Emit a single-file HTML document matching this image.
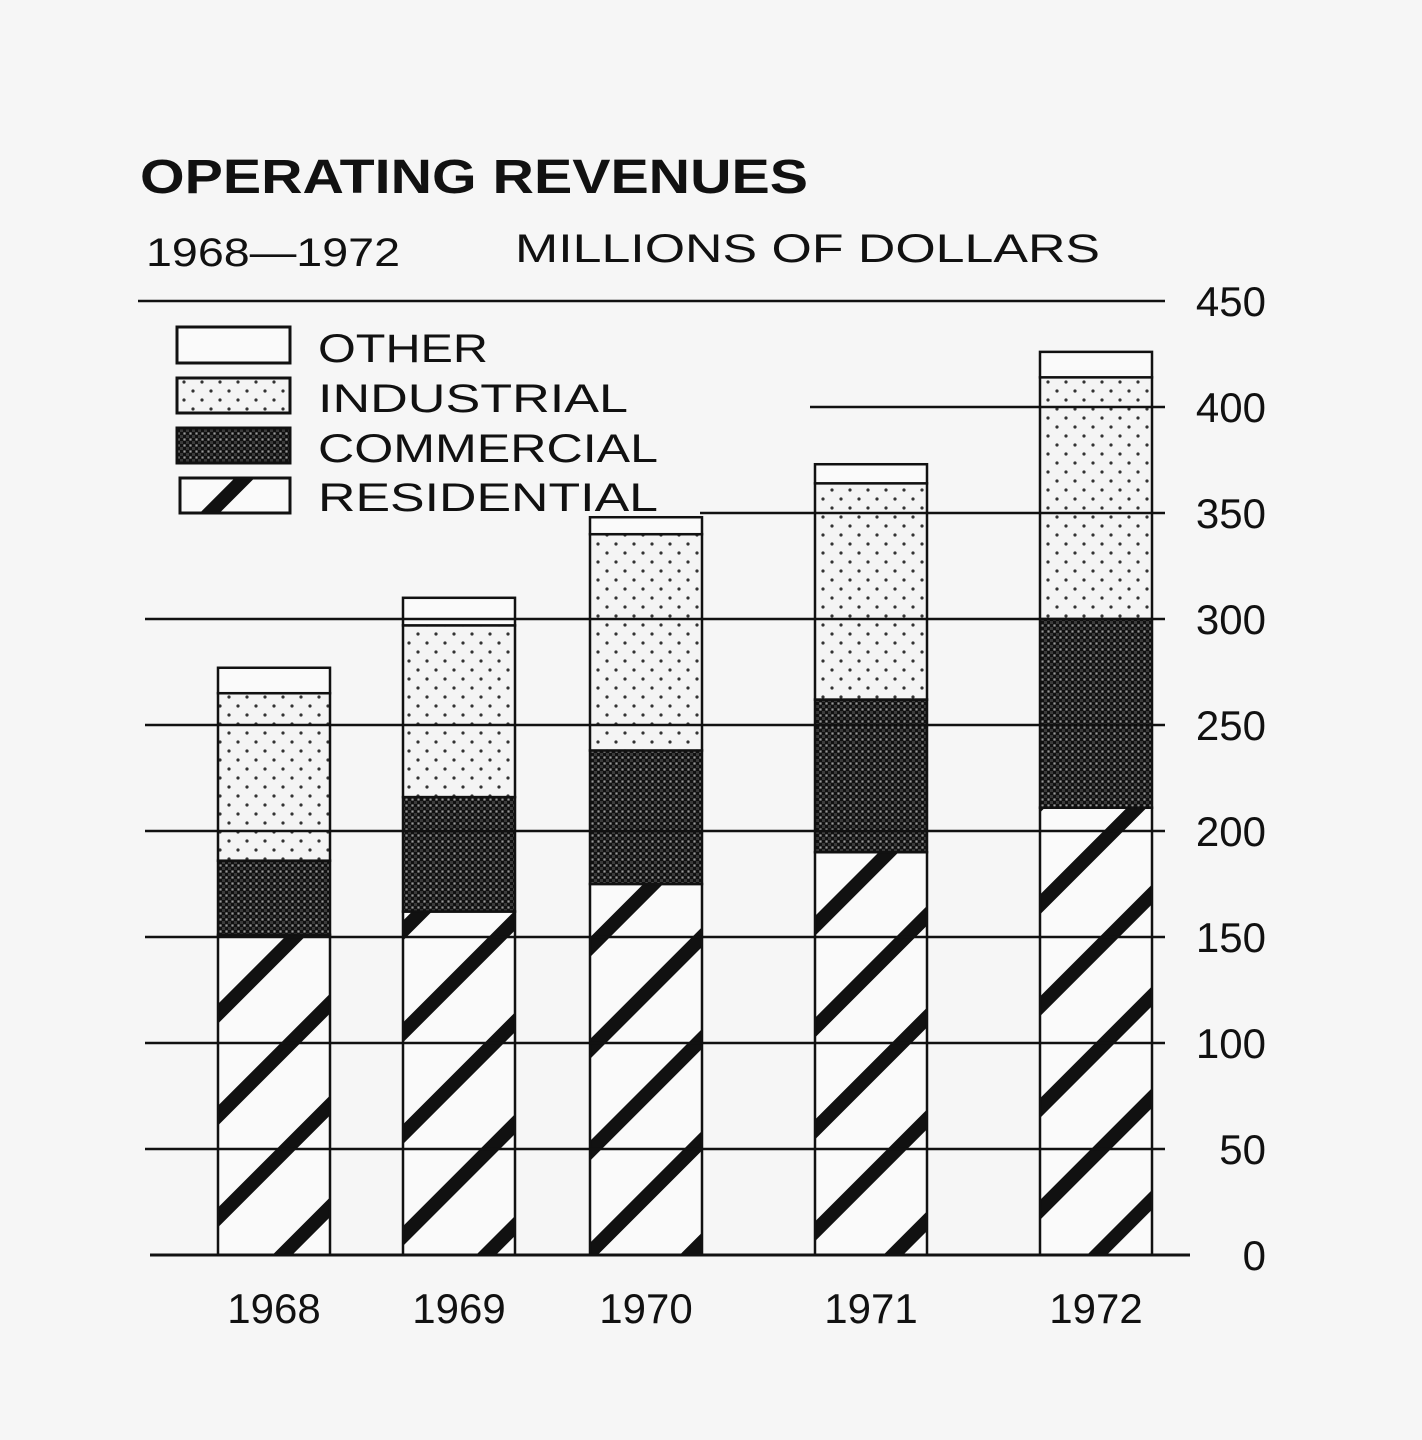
<!DOCTYPE html>
<html><head><meta charset="utf-8"><style>
body{margin:0;background:#f6f6f6;}
svg{display:block;font-family:"Liberation Sans",sans-serif;}
</style></head><body>
<svg width="1422" height="1440" viewBox="0 0 1422 1440">
<defs>
<pattern id="dots" patternUnits="userSpaceOnUse" width="18" height="18">
<rect width="18" height="18" fill="#f4f4f4"/><circle cx="4" cy="4" r="1.6" fill="#333"/><circle cx="13" cy="13" r="1.6" fill="#333"/>
</pattern>
<pattern id="cross" patternUnits="userSpaceOnUse" width="6" height="6">
<rect width="6" height="6" fill="#3a3a3a"/><rect x="0" y="0" width="3" height="3" fill="#111"/><rect x="3" y="3" width="3" height="3" fill="#111"/><circle cx="4.5" cy="1.5" r="1" fill="#999"/>
</pattern>
<pattern id="stripes" patternUnits="userSpaceOnUse" width="72" height="72" patternTransform="rotate(45)">
<rect width="72" height="72" fill="#fafafa"/><rect x="0" y="0" width="14" height="72" fill="#111"/>
</pattern>
</defs>
<text x="140" y="193" font-size="48" font-weight="bold" fill="#111" textLength="668" lengthAdjust="spacingAndGlyphs">OPERATING REVENUES</text>
<text x="146" y="266" font-size="40" fill="#111" textLength="254" lengthAdjust="spacingAndGlyphs">1968—1972</text>
<text x="515" y="262" font-size="40" fill="#111" textLength="585" lengthAdjust="spacingAndGlyphs">MILLIONS OF DOLLARS</text>
<g id="grid"></g>
<g id="bars"></g>
<g id="ticks"></g>
<g id="xlabels"></g>
<g>
<rect x="177" y="327" width="113" height="36" fill="#fafafa" stroke="#111" stroke-width="3"/>
<text x="318" y="362" font-size="40" fill="#111" textLength="170" lengthAdjust="spacingAndGlyphs">OTHER</text>
<rect x="177" y="378" width="113" height="35" fill="url(#dots)" stroke="#111" stroke-width="3"/>
<text x="318" y="412" font-size="40" fill="#111" textLength="310" lengthAdjust="spacingAndGlyphs">INDUSTRIAL</text>
<rect x="177" y="428" width="113" height="35" fill="url(#cross)" stroke="#111" stroke-width="3"/>
<text x="318" y="462" font-size="40" fill="#111" textLength="340" lengthAdjust="spacingAndGlyphs">COMMERCIAL</text>
<rect x="180" y="478" width="110" height="35" fill="url(#stripes)" stroke="#111" stroke-width="3"/>
<text x="318" y="511" font-size="40" fill="#111" textLength="340" lengthAdjust="spacingAndGlyphs">RESIDENTIAL</text>
</g>
</svg>
<script>
const years=["1968","1969","1970","1971","1972"];
const residential=[151,162,175,190,211];
const commercial=[35,54,63,72,89];
const industrial=[79,81,102,102,114];
const other=[12,13,8,9,12];
const ticks=[0,50,100,150,200,250,300,350,400,450];
const barLeft=[218,403,590,815,1040];
const NS="http://www.w3.org/2000/svg";
function y(v){return 1255-v*2.12;}
function mk(tag,attrs,parent){const e=document.createElementNS(NS,tag);for(const k in attrs)e.setAttribute(k,attrs[k]);document.getElementById(parent).appendChild(e);return e;}
const gridStart={0:150,350:700,400:810,450:138};
ticks.forEach(t=>{
  const x0=gridStart[t]!==undefined?gridStart[t]:145;
  const x1=t===0?1190:1165;
  const l=mk('line',{x1:x0,x2:x1,y1:y(t),y2:y(t),stroke:'#111','stroke-width':t===0?3:2.5},'grid');
  
  
  const tx=mk('text',{x:1266,y:y(t)+15,'font-size':42,'text-anchor':'end',fill:'#111'},'ticks');
  tx.textContent=t;
  
  
});
const series=[["residential",residential,"url(#stripes)"],["commercial",commercial,"url(#cross)"],["industrial",industrial,"url(#dots)"],["other",other,"#fafafa"]];
years.forEach((yr,i)=>{
  let base=0;
  series.forEach(([nm,arr,fill])=>{
    const v=arr[i];
    const r=mk('rect',{x:barLeft[i],y:y(base+v),width:112,height:v*2.12,fill:fill,stroke:'#111','stroke-width':2.5},'bars');
    
    
    base+=v;
  });
  const t=mk('text',{x:barLeft[i]+56,y:1323,'font-size':42,'text-anchor':'middle',fill:'#111'},'xlabels');
  t.textContent=yr;
  
  
});
const g=document.getElementById('grid');g.parentNode.appendChild(g);
</script>
</body></html>
